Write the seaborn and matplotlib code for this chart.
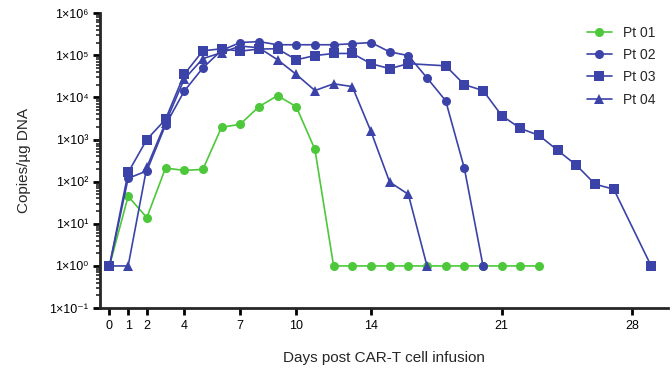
import pandas as pd
import seaborn as sns
import matplotlib.pyplot as plt
import numpy as np
from matplotlib.ticker import FixedLocator, LogLocator, NullFormatter

# Days and copies/ug DNA
pt01_days = list(range(0, 24))
pt01_vals = [1, 45, 14, 210, 185, 195, 1950, 2300, 6000, 11000, 6000, 580,
             1, 1, 1, 1, 1, 1, 1, 1, 1, 1, 1, 1]

pt02_days = list(range(0, 21))
pt02_vals = [1, 120, 180, 2200, 14000, 50000, 130000, 200000, 210000, 177000,
             177000, 177000, 177000, 187000, 200000, 120000, 98000, 29000, 8300,
             207, 1]

pt03_days = [0, 1, 2, 3, 4, 5, 6, 7, 8, 9, 10, 11, 12, 13, 14, 15, 16, 18, 19,
             20, 21, 22, 23, 24, 25, 26, 27, 29]
pt03_vals = [1, 165, 1000, 3000, 35000, 127000, 142000, 125000, 140000, 142000,
             78000, 98000, 110000, 110000, 63000, 48000, 63000, 56000, 20000,
             14500, 3700, 1830, 1250, 550, 245, 87, 66, 1]

pt04_days = list(range(0, 18))
pt04_vals = [1, 1, 220, 2500, 27000, 83000, 115000, 165000, 150000, 78000,
             35000, 14500, 21000, 18000, 1550, 98, 50, 1]

patients = ['Pt 01', 'Pt 02', 'Pt 03', 'Pt 04']
x_ticks = [0, 1, 2, 4, 7, 10, 14, 21, 28]
y_ticks = [1e-1, 1, 1e1, 1e2, 1e3, 1e4, 1e5, 1e6]
y_labels = ['1×10⁻¹', '1×10⁰', '1×10¹', '1×10²', '1×10³', '1×10⁴', '1×10⁵', '1×10⁶']

frames = []
for name, d, v in zip(patients, [pt01_days, pt02_days, pt03_days, pt04_days],
                      [pt01_vals, pt02_vals, pt03_vals, pt04_vals]):
    frames.append(pd.DataFrame({'day': d, 'copies': v, 'patient': name}))
data = pd.concat(frames, ignore_index=True)

sns.set_style('ticks')
plt.rcParams['font.family'] = ['Liberation Sans', 'DejaVu Sans']

green = '#4cc83a'
blue = '#3b43a8'
palette = {'Pt 01': green, 'Pt 02': blue, 'Pt 03': blue, 'Pt 04': blue}
markers = {'Pt 01': 'o', 'Pt 02': 'o', 'Pt 03': 's', 'Pt 04': '^'}

fig = plt.figure(figsize=(6.72, 3.73), dpi=100)
ax = fig.add_axes([0.149, 0.174, 0.845, 0.791])

sns.lineplot(data=data, x='day', y='copies', hue='patient', style='patient',
             palette=palette, markers=markers, dashes=False, markersize=6.5,
             markeredgewidth=0, linewidth=1.2, ax=ax)

ax.set_yscale('log')
ax.set_ylim(1e-1, 1e6)
ax.set_xlim(-0.5, 29.9)
ax.xaxis.set_major_locator(FixedLocator(x_ticks))
ax.set_xticklabels([str(t) for t in x_ticks], fontsize=9)
ax.yaxis.set_major_locator(FixedLocator(y_ticks))
ax.set_yticklabels(y_labels, fontsize=9)
ax.yaxis.set_minor_locator(LogLocator(base=10, subs=np.arange(2, 10)))
ax.yaxis.set_minor_formatter(NullFormatter())
ax.tick_params(axis='both', which='major', width=2, length=5, colors='black')
ax.tick_params(axis='y', which='minor', width=1.2, length=3)
ax.tick_params(axis='x', which='minor', bottom=False)

for s in ['left', 'bottom']:
    ax.spines[s].set_linewidth(2)
sns.despine(ax=ax)

ax.set_xlabel('Days post CAR-T cell infusion', fontsize=11, labelpad=14)
ax.set_ylabel('Copies/µg DNA', fontsize=11, labelpad=13)

leg = ax.legend(loc='upper right', frameon=False, fontsize=10,
                handlelength=1.8, labelspacing=0.6, bbox_to_anchor=(1.0, 1.0))
leg.set_title(None)

fig.savefig('out.png', dpi=100)
